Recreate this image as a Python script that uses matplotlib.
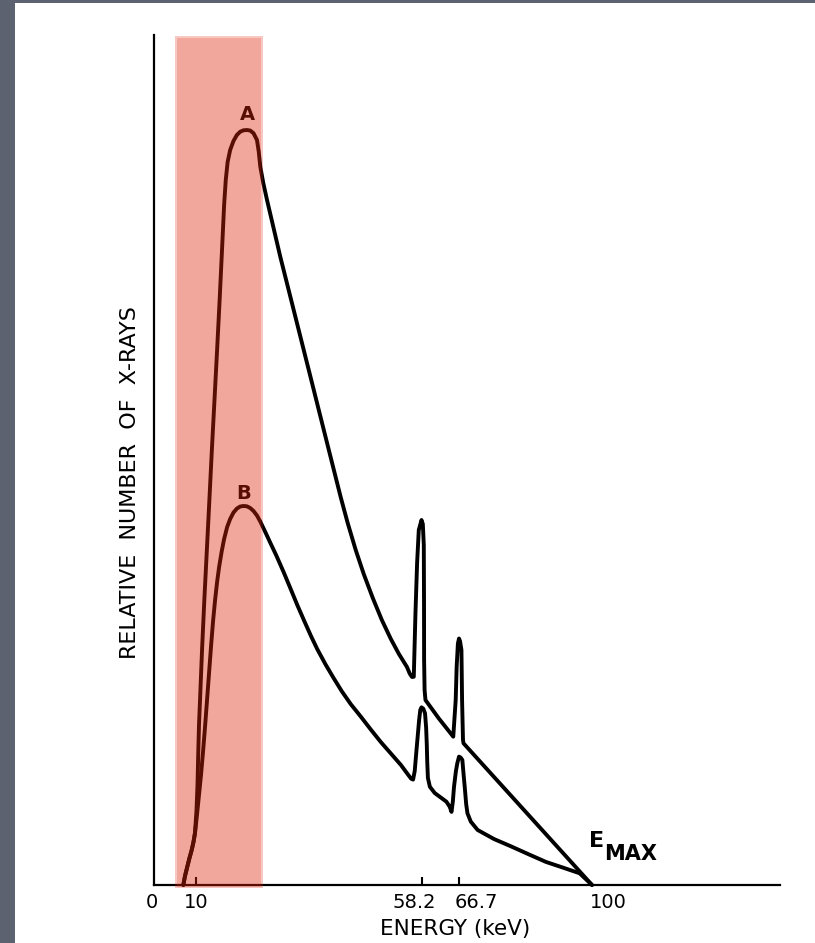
import numpy as np
import matplotlib.pyplot as plt
from matplotlib.patches import Rectangle

# Espectro A: energia (keV) e número relativo de fótons
energia_a = [6.98, 7.38, 7.93, 8.45, 8.98, 9.40, 9.76,
             10.11, 10.32, 10.47, 10.64, 10.86, 11.29, 11.78, 12.32, 12.86, 13.39,
             13.95, 14.51, 15.05, 15.56, 16.01, 16.36, 16.76, 17.30, 18.01, 18.74,
             19.45, 20.16, 20.89,
             21.59, 22.30, 23.03, 23.42, 23.74, 24.38, 25.18, 26.53, 28.03, 30.18,
             32.33, 34.48, 36.62, 38.77, 40.92, 42.42, 44.14, 45.85, 47.79, 49.72,
             51.65, 53.37, 55.09, 55.7, 56.18,
             56.55, 56.91, 57.26, 57.62, 58.2, 58.5, 58.72, 58.77, 58.79, 58.9, 59.1,
             62.12, 65.4,
             65.95, 66.17, 66.45, 66.7, 66.95, 67.31, 67.47, 67.7, 67.83, 100]
contagem_a = [0, 1.06, 2.15, 3.18, 4.12, 5.06, 6.12,
              8.82, 11.76, 15.29, 18.82, 21.76, 27.65, 33.53, 39.41, 45.29, 51.18,
              57.06, 62.94, 68.82, 74.71, 80.0, 82.94, 85.06, 86.47, 87.53, 88.24,
              88.62, 88.79, 88.82,
              88.76, 88.44, 87.65, 86.24, 84.51, 82.59, 80.59, 77.41, 73.88, 69.18,
              64.47, 59.76, 55.06, 50.35, 45.65, 42.59, 39.41, 36.59, 33.76, 31.18,
              28.94, 27.18, 25.65, 24.85, 24.47,
              24.5, 32.0, 37.88, 41.76, 42.94, 42.47, 40.0, 33.5, 26.5, 22.94, 21.76,
              19.6, 17.45,
              21.76, 25.68, 28.4, 29.0, 28.7, 27.65, 21.76, 17.06, 16.67, 0]

# Espectro B
energia_b = [6.98, 7.38, 7.93, 8.45, 8.98, 9.40, 9.76,
             10.21, 10.64, 11.07, 11.50, 11.93, 12.36, 12.79, 13.22, 13.65, 14.08,
             14.51, 14.94, 15.47, 16.01, 16.66, 17.30, 18.01, 18.74, 19.45, 20.16,
             20.89, 21.59, 22.30, 23.03, 23.74, 24.81, 25.89, 27.18, 28.74, 30.18,
             31.68, 33.19, 34.58, 35.91, 37.70, 39.41, 41.13, 43.06, 45.21, 47.36,
             49.50, 51.65, 53.80, 55.30, 56.0,
             56.4, 56.75, 57.13, 57.69, 57.94, 58.2, 58.6, 59.0, 59.25, 59.4, 59.5,
             59.65, 60.1, 61.2, 63.85, 64.6, 65.0,
             65.3, 65.57, 66.0, 66.31, 66.7, 67.1, 67.54, 67.85, 68.13, 68.5, 68.82,
             69.66, 71.37, 75.5, 79.8, 84.2, 88.5, 92.7, 96.9, 100]
contagem_b = [0, 1.06, 2.15, 3.18, 4.12, 5.06, 6.12,
              8.24, 10.59, 12.94, 15.65, 18.59, 21.76, 24.94, 28.12, 31.06, 33.53,
              35.65, 37.41, 39.18, 40.71, 42.12, 43.06, 43.82, 44.29, 44.53, 44.59,
              44.55, 44.35, 44.0, 43.47, 42.76, 41.53, 40.25, 38.75, 36.8, 34.9,
              32.9, 31.0, 29.29, 27.76, 25.94, 24.35, 22.82, 21.29, 19.82, 18.29,
              16.82, 15.47, 14.12, 13.0, 12.5,
              12.4, 13.4, 15.88, 19.41, 20.6, 20.9, 20.75, 20.2, 18.5, 16.5, 14.5,
              12.6, 11.56, 10.82, 9.8, 9.2, 8.6,
              9.8, 11.56, 13.4, 14.31, 15.1, 15.0, 14.71, 13.0, 11.56, 9.5, 8.43,
              7.45, 6.47, 5.4, 4.53, 3.6, 2.71, 2.05, 1.38, 0]

# Marcas do eixo de energia
marcas = [0, 10, 58.2, 66.7, 100]
rotulos = ['0', '10', '58.2', '66.7', '100']
desloc_rotulos = [-2, 0, -7, 17, 16]   # px
tracos = [10, 58.2, 66.7]

# eixo de energia traçado à mão: escala linear por trechos
escala_kev = [-1000, 0, 10, 58.2, 66.7, 100, 141, 1000]
escala_pos = [-4046, 154, 196, 421.5, 459, 592, 780, 4718.5]


def ida(x):
    return np.interp(x, escala_kev, escala_pos)


def volta(p):
    return np.interp(p, escala_pos, escala_kev)


faixa = (5.0, 24.4)   # região de baixa energia destacada
cor_faixa = '#e0240a'

fig = plt.figure(figsize=(8.15, 9.43), dpi=100, facecolor='#5d6271')
fig.add_artist(Rectangle((15 / 815, 0), 1, 940 / 943, transform=fig.transFigure,
                         facecolor='white', edgecolor='none', zorder=0))

ax = fig.add_axes([154 / 815, 58 / 943, 626 / 815, 850 / 943])
ax.patch.set_alpha(0)
ax.set_xscale('function', functions=(ida, volta))
ax.set_xlim(0, 141)
ax.set_ylim(0, 100)

for lado in ['top', 'right']:
    ax.spines[lado].set_visible(False)
for lado in ['left', 'bottom']:
    ax.spines[lado].set_linewidth(1.6)

estilo = dict(color='black', lw=2.8, solid_joinstyle='round',
              solid_capstyle='round', clip_on=False, zorder=3)
ax.plot(energia_a, contagem_a, **estilo)
ax.plot(energia_b, contagem_b, **estilo)

ax.text(20.97, 90.6, 'A', ha='center', va='center', fontsize=14, fontweight='bold')
ax.text(20.1, 46.1, 'B', ha='center', va='center', fontsize=14, fontweight='bold')

ax.text(101.1, 5.2, 'E', ha='center', va='center', fontsize=16, fontweight='bold')
ax.text(102.6, 3.6, 'MAX', ha='left', va='center', fontsize=15, fontweight='bold')

# faixa sobreposta às curvas, com borda mais clara
ax.axvspan(*faixa, ymin=-0.004, ymax=0.999, color=cor_faixa, alpha=0.25,
           lw=0, zorder=5, clip_on=False)
ax.axvspan(faixa[0] + 0.5, faixa[1] - 0.45, ymin=-0.002, ymax=0.997,
           color=cor_faixa, alpha=0.2, lw=0, zorder=5, clip_on=False)

ax.set_yticks([])
ax.set_xticks(tracos)
ax.minorticks_off()
ax.tick_params(axis='x', direction='in', length=6, width=1.5, labelbottom=False)

for v, s, dx in zip(marcas, rotulos, desloc_rotulos):
    ax.annotate(s, xy=(v, 0), xycoords=('data', 'axes fraction'),
                xytext=(dx, -23), textcoords='offset pixels',
                ha='center', va='baseline', fontsize=14, annotation_clip=False)

ax.text(0.481, -0.04, 'ENERGY (keV)', transform=ax.transAxes,
        ha='center', va='top', fontsize=15.5)
ax.text(-0.0383, 0.474, 'RELATIVE  NUMBER  OF  X-RAYS', transform=ax.transAxes,
        rotation=90, ha='center', va='center', fontsize=16)

fig.savefig('out.png', dpi=100)
